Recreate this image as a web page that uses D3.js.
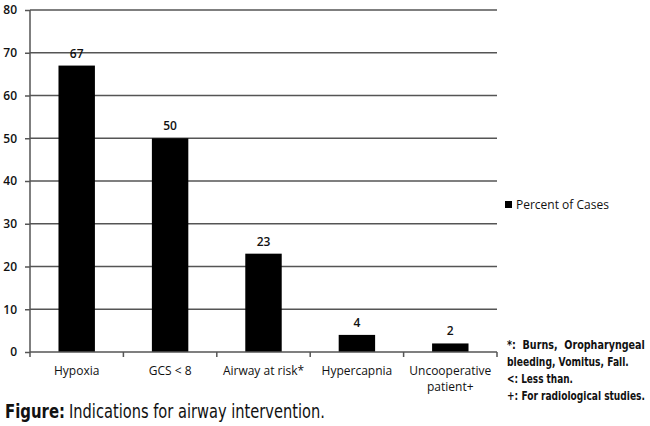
<!DOCTYPE html>
<html>
<head>
<meta charset="utf-8">
<script src="https://cdn.jsdelivr.net/npm/d3@7"></script>
<style>
  body { margin: 0; background: #fff; }
  svg { display: block; }
  .tick text { font-family: "Open Sans", "Liberation Sans", sans-serif; font-size: 12px; fill: #111; }
</style>
</head>
<body>
<div id="chart"></div>
<script>
// chart data
const categories = ["Hypoxia", "GCS < 8", "Airway at risk*", "Hypercapnia", "Uncooperative patient+"];
const percentOfCases = [67, 50, 23, 4, 2];
const yTicks = [0, 10, 20, 30, 40, 50, 60, 70, 80];
const footnotes = ["*:  Burns,  Oropharyngeal", "bleeding, Vomitus, Fall.", "<: Less than.", "+: For radiological studies."];
const footnoteWidths = [138, 122, 66, 138];

const width = 650, height = 426;
const margin = { top: 10, left: 30, right: 153, bottom: 74 };
const condensed = "'DejaVu Sans Condensed', 'DejaVu Sans', sans-serif";

const svg = d3.select("#chart").append("svg")
    .attr("width", width)
    .attr("height", height);

const x = d3.scaleBand()
    .domain(categories)
    .range([margin.left, width - margin.right])
    .paddingInner(0.61)
    .paddingOuter(0.305);

const y = d3.scaleLinear()
    .domain([0, 80])
    .range([height - margin.bottom, margin.top]);

// squeeze a text horizontally to a target width (the original uses a narrow face)
function fitWidth(sel, x0, y0, target) {
    const natural = sel.node().getComputedTextLength();
    sel.attr("transform", `translate(${x0},${y0}) scale(${target / natural},1)`);
}

// gridlines
svg.append("g")
    .selectAll("line")
    .data(yTicks.filter(d => d > 0))
    .enter().append("line")
    .attr("x1", margin.left)
    .attr("x2", width - margin.right)
    .attr("y1", d => y(d))
    .attr("y2", d => y(d))
    .attr("stroke", "#555")
    .attr("stroke-width", 1.5);

// bars
svg.selectAll(".bar")
    .data(percentOfCases)
    .enter().append("rect")
    .attr("class", "bar")
    .attr("x", (d, i) => x(categories[i]))
    .attr("y", d => y(d))
    .attr("width", x.bandwidth())
    .attr("height", d => y(0) - y(d))
    .attr("fill", "#000");

// value labels
svg.selectAll(".val")
    .data(percentOfCases)
    .enter().append("text")
    .attr("x", (d, i) => x(categories[i]) + x.bandwidth() / 2)
    .attr("y", d => y(d) - 8)
    .attr("text-anchor", "middle")
    .style("font-family", "'Open Sans', 'Liberation Sans', sans-serif")
    .style("font-size", "12px")
    .style("font-weight", "600")
    .attr("fill", "#111")
    .text(d => d);

// y axis
const yAxis = svg.append("g")
    .attr("transform", `translate(${margin.left},0)`)
    .call(d3.axisLeft(y).tickValues(yTicks).tickSize(5).tickPadding(8));
yAxis.selectAll("line, path").attr("stroke", "#555").attr("stroke-width", 1.5);
yAxis.select(".domain").attr("d", `M0,${y(0)}V${y(80)}`);
yAxis.selectAll(".tick text").style("font-weight", "600");

// x axis with ticks at band boundaries
const xAxis = svg.append("g")
    .attr("transform", `translate(0,${y(0)})`);
xAxis.append("line")
    .attr("x1", margin.left)
    .attr("x2", width - margin.right)
    .attr("stroke", "#555")
    .attr("stroke-width", 1.5);
const bounds = d3.range(categories.length + 1).map(i => margin.left + i * x.step());
xAxis.selectAll(".xt")
    .data(bounds)
    .enter().append("line")
    .attr("x1", d => d).attr("x2", d => d)
    .attr("y1", 0).attr("y2", 5)
    .attr("stroke", "#555")
    .attr("stroke-width", 1.5);

const xLabels = xAxis.selectAll(".xl")
    .data(categories)
    .enter().append("text")
    .attr("x", d => x(d) + x.bandwidth() / 2)
    .attr("y", 23)
    .attr("text-anchor", "middle")
    .style("font-family", "'Open Sans', 'Liberation Sans', sans-serif")
    .style("font-size", "12px")
    .attr("fill", "#111");
xLabels.each(function(d) {
    const t = d3.select(this);
    const parts = d === "Uncooperative patient+" ? ["Uncooperative", "patient+"] : [d];
    parts.forEach((p, i) => {
        t.append("tspan")
            .attr("x", x(d) + x.bandwidth() / 2)
            .attr("dy", i === 0 ? 0 : 16)
            .text(p);
    });
});

// legend
svg.append("rect")
    .attr("x", 505).attr("y", 201)
    .attr("width", 7).attr("height", 7)
    .attr("fill", "#000");
svg.append("text")
    .attr("x", 516).attr("y", 209)
    .style("font-family", "'Open Sans', 'Liberation Sans', sans-serif")
    .style("font-size", "12px")
    .attr("fill", "#111")
    .text("Percent of Cases");

// footnotes
svg.append("g")
    .selectAll("text")
    .data(footnotes)
    .enter().append("text")
    .style("font-family", condensed)
    .style("font-stretch", "condensed")
    .style("font-size", "12px")
    .style("font-weight", "bold")
    .style("white-space", "pre")
    .attr("fill", "#111")
    .text(d => d)
    .each(function(d, i) {
        fitWidth(d3.select(this), 507, 349 + i * 17, footnoteWidths[i]);
    });

// caption
svg.append("text")
    .style("font-family", condensed)
    .style("font-stretch", "condensed")
    .style("font-size", "19px")
    .style("font-weight", "bold")
    .attr("fill", "#111")
    .text("Figure:")
    .call(fitWidth, 5, 418, 60);
svg.append("text")
    .style("font-family", condensed)
    .style("font-stretch", "condensed")
    .style("font-size", "19px")
    .attr("fill", "#111")
    .text("Indications for airway intervention.")
    .call(fitWidth, 69, 418, 256);
</script>
</body>
</html>
